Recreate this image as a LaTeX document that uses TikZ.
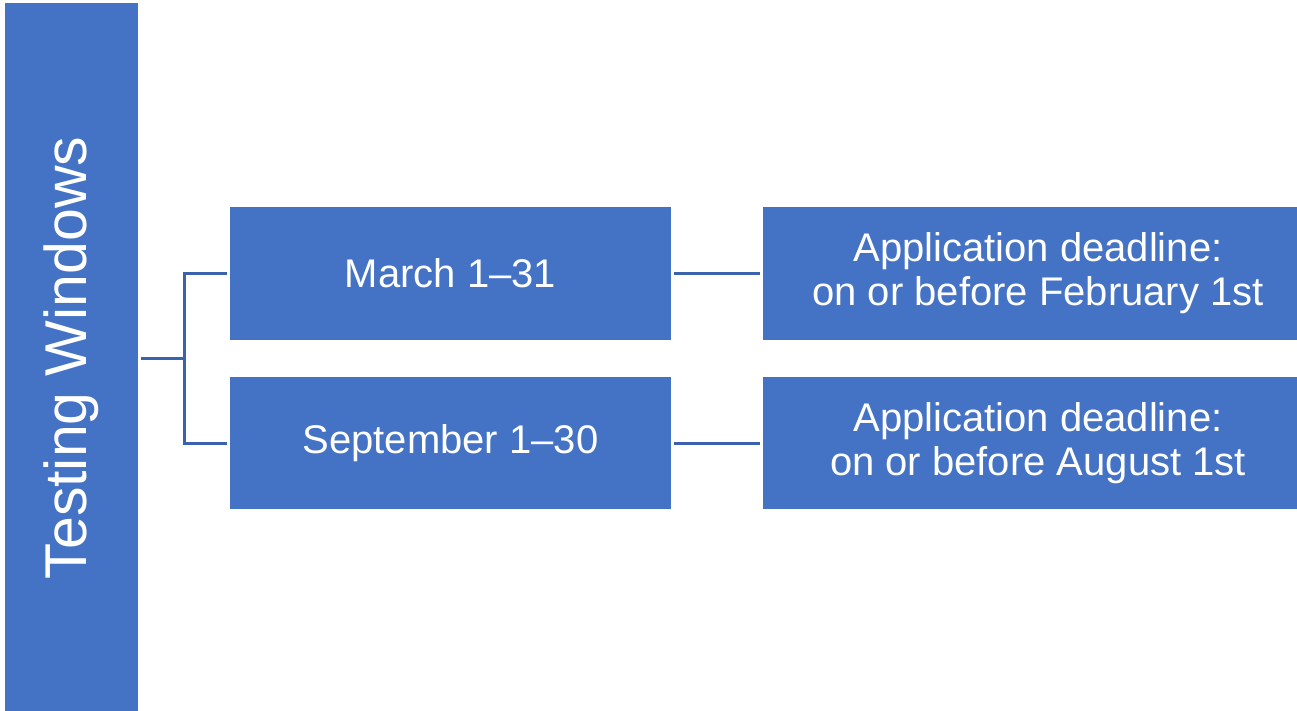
\documentclass[tikz,border=0pt]{standalone}
\usepackage{fontspec}
\setmainfont{Liberation Sans}
\definecolor{boxblue}{HTML}{4472C4}
\definecolor{linkblue}{HTML}{3B62AC}
\begin{document}
\begin{tikzpicture}[x=1pt,y=-1pt,
  box/.style={fill=boxblue, draw=none, text=white, inner sep=0pt, outer sep=3pt,
    align=center, font=\fontsize{40}{44}\selectfont},
  link/.style={draw=linkblue, line width=3pt}]
\useasboundingbox (0,0) rectangle (1297,711);
\clip (0,0) rectangle (1297,711);
\node[box, minimum width=133pt, minimum height=710pt] (L) at (71.5,358) {};
\node[text=white, inner sep=0pt, rotate=90, font=\fontsize{59}{64}\selectfont]
  (Lt) at (L.center) {Testing Windows};
\node[box, minimum width=441pt, minimum height=133pt] (M1) at (450.5,273.5) {March 1–31};
\node[box, minimum width=441pt, minimum height=132pt] (M2) at (450.5,443) {September 1–30};
\node[box, minimum width=550pt, minimum height=133pt] (R1) at (1038,273.5) {Application deadline:\\on or before February 1st};
\node[box, minimum width=550pt, minimum height=132pt] (R2) at (1038,443) {Application deadline:\\on or before August 1st};
\coordinate (j) at (184,358);
\draw[link] (L.east) -- (j);
\draw[link] (M1.west) -| (j) |- (M2.west);
\draw[link] (M1.east) -- (R1.west);
\draw[link] (M2.east) -- (R2.west);
\end{tikzpicture}
\end{document}
